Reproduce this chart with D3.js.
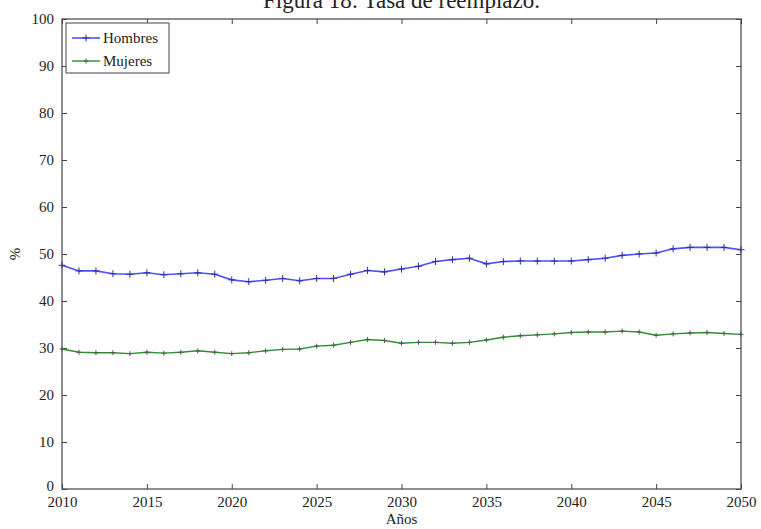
<!DOCTYPE html>
<html>
<head>
<meta charset="utf-8">
<script src="https://cdn.jsdelivr.net/npm/d3@7"></script>
<style>
  html, body { margin: 0; padding: 0; background: #fff; }
  svg { display: block; }
</style>
</head>
<body>
<script>
// Replacement rate by sex, yearly projection 2010–2050
const years = d3.range(2010, 2051);
const hombres = [
  47.6, 46.4, 46.4, 45.8, 45.7, 46.0, 45.6, 45.8, 46.0, 45.7,
  44.5, 44.1, 44.4, 44.8, 44.3, 44.8, 44.8, 45.7, 46.5, 46.2,
  46.8, 47.4, 48.4, 48.8, 49.1, 47.9, 48.4, 48.5, 48.5, 48.5,
  48.5, 48.8, 49.1, 49.7, 50.0, 50.2, 51.1, 51.4, 51.4, 51.4,
  50.9
];
const mujeres = [
  29.8, 29.1, 29.0, 29.0, 28.8, 29.1, 28.9, 29.1, 29.4, 29.1,
  28.8, 29.0, 29.4, 29.7, 29.8, 30.4, 30.6, 31.2, 31.8, 31.6,
  31.0, 31.2, 31.2, 31.0, 31.2, 31.7, 32.3, 32.6, 32.8, 33.0,
  33.3, 33.4, 33.4, 33.6, 33.4, 32.7, 33.0, 33.2, 33.3, 33.1,
  32.9
];
const xTicks = [2010, 2015, 2020, 2025, 2030, 2035, 2040, 2045, 2050];
const yTicks = [0, 10, 20, 30, 40, 50, 60, 70, 80, 90, 100];
const seriesNames = ["Hombres", "Mujeres"];
const titleText = "Figura 18: Tasa de reemplazo.";
const xLabel = "Años";
const yLabel = "%";

const W = 761, H = 529;
const m = { left: 62, right: 20, top: 19, bottom: 40 };
const serif = "'Liberation Serif', 'DejaVu Serif', serif";
const axisColor = "#444";
const blue = "#5050ff";
const green = "#2f8f2f";

const svg = d3.select("body").append("svg").attr("width", W).attr("height", H);

const x = d3.scaleLinear().domain([2010, 2050]).range([m.left, W - m.right]);
const y = d3.scaleLinear().domain([0, 100]).range([H - m.bottom, m.top]);

// Title (top edge cropped by the page)
svg.append("text")
  .attr("x", (m.left + W - m.right) / 2).attr("y", 8)
  .attr("text-anchor", "middle")
  .attr("font-family", serif).attr("font-size", 23).attr("fill", "#222")
  .text(titleText);

// Frame
const plotW = W - m.right - m.left, plotH = H - m.bottom - m.top;
svg.append("rect")
  .attr("x", m.left).attr("y", m.top).attr("width", plotW).attr("height", plotH)
  .attr("fill", "none").attr("stroke", axisColor).attr("stroke-width", 1.2);

// Axes with inward ticks
const tickLen = 5;
const xAxisB = d3.axisBottom(x).tickValues(xTicks).tickFormat(d3.format("d"))
  .tickSizeInner(-tickLen).tickSizeOuter(0).tickPadding(8);
const gxb = svg.append("g").attr("transform", `translate(0,${H - m.bottom})`).call(xAxisB);
const gxt = svg.append("g").attr("transform", `translate(0,${m.top})`)
  .call(d3.axisTop(x).tickValues(xTicks).tickFormat("").tickSizeInner(-tickLen).tickSizeOuter(0));
const yAxisL = d3.axisLeft(y).tickValues(yTicks).tickFormat(d3.format("d"))
  .tickSizeInner(-tickLen).tickSizeOuter(0).tickPadding(8);
const gyl = svg.append("g").attr("transform", `translate(${m.left},0)`).call(yAxisL);
const gyr = svg.append("g").attr("transform", `translate(${W - m.right},0)`)
  .call(d3.axisRight(y).tickValues(yTicks).tickFormat("").tickSizeInner(-tickLen).tickSizeOuter(0));

[gxb, gxt, gyl, gyr].forEach(g => {
  g.select(".domain").remove();
  g.selectAll(".tick line").attr("stroke", axisColor);
  g.selectAll(".tick text").attr("font-family", serif).attr("font-size", 15).attr("fill", "#222");
});
gxb.selectAll(".tick text").attr("dy", "0.65em");
// lift the bottom y label a little so it clears the first year label
gyl.selectAll(".tick text").filter(d => d === 0).attr("dy", "0.1em");

// Axis labels
svg.append("text")
  .attr("x", (m.left + W - m.right) / 2).attr("y", 524)
  .attr("text-anchor", "middle")
  .attr("font-family", serif).attr("font-size", 15).attr("fill", "#222")
  .text(xLabel);
svg.append("text")
  .attr("transform", `translate(20,${y(50)}) rotate(-90)`)
  .attr("text-anchor", "middle")
  .attr("font-family", serif).attr("font-size", 15).attr("fill", "#222")
  .text(yLabel);

// Series
const line = d3.line().x((d, i) => x(years[i])).y(d => y(d));
const series = [
  { name: seriesNames[0], values: hombres, color: blue, mark: "#3030a0", ms: 3.5, width: 1.6 },
  { name: seriesNames[1], values: mujeres, color: green, mark: "#555", ms: 2.5, width: 1.4 }
];

series.forEach(s => {
  svg.append("path").datum(s.values)
    .attr("d", line).attr("fill", "none")
    .attr("stroke", s.color).attr("stroke-width", s.width);
  const g = svg.append("g");
  s.values.forEach((v, i) => {
    const cx = x(years[i]), cy = y(v);
    g.append("path")
      .attr("d", `M${cx - s.ms},${cy}H${cx + s.ms}M${cx},${cy - s.ms}V${cy + s.ms}`)
      .attr("stroke", s.mark).attr("stroke-width", 1);
  });
});

// Legend
const lg = svg.append("g").attr("transform", `translate(${m.left + 4},${m.top + 4})`);
lg.append("rect").attr("width", 103).attr("height", 50)
  .attr("fill", "#fff").attr("stroke", axisColor).attr("stroke-width", 1);
series.forEach((s, i) => {
  const ly = 15 + i * 23;
  lg.append("line").attr("x1", 6).attr("x2", 34).attr("y1", ly).attr("y2", ly)
    .attr("stroke", s.color).attr("stroke-width", s.width);
  lg.append("path").attr("d", `M${20 - s.ms},${ly}H${20 + s.ms}M20,${ly - s.ms}V${ly + s.ms}`)
    .attr("stroke", s.mark).attr("stroke-width", 1);
  lg.append("text").attr("x", 37).attr("y", ly + 5)
    .attr("font-family", serif).attr("font-size", 15).attr("fill", "#222")
    .text(s.name);
});
</script>
</body>
</html>
